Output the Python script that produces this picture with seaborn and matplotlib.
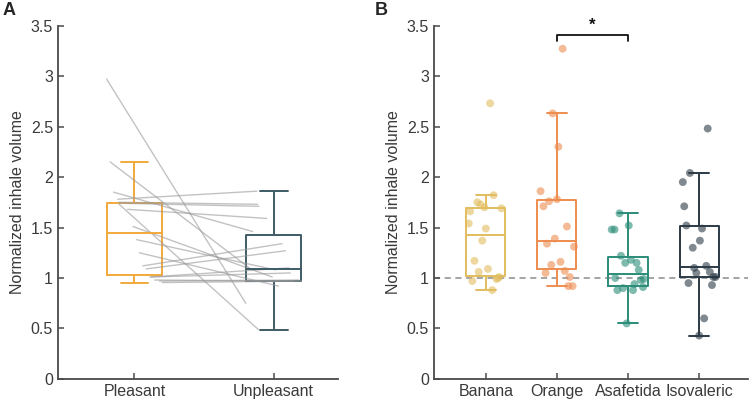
import matplotlib
matplotlib.use("Agg")
import matplotlib.pyplot as plt
import pandas as pd
import seaborn as sns

sns.set_theme(style="white")
plt.rcParams["font.family"] = ["Liberation Sans", "DejaVu Sans"]

# Panel A: one value per subject and condition, plus the horizontal jitter of each subject
pleasant = [2.97, 2.15, 1.85, 1.78, 1.75, 1.74, 1.73, 1.68, 1.51, 1.38, 1.25, 1.12, 1.09, 1.01, 1.01, 0.98, 0.97, 0.955]
unpleasant = [0.75, 1.10, 1.46, 1.86, 1.73, 1.71, 0.49, 1.59, 1.01, 1.08, 0.92, 1.34, 1.27, 1.10, 1.05, 0.97, 0.98, 0.97]
subject_dx = [-0.20, -0.175, -0.15, -0.12, -0.115, -0.105, -0.11, -0.05, -0.01, 0.015, 0.035, 0.06,
              0.085, 0.11, 0.12, 0.145, 0.18, 0.20]
valence_labels = ["Pleasant", "Unpleasant"]

# Panel B: values per odor and the jitter
odor_labels = ["Banana", "Orange", "Asafetida", "Isovaleric"]
banana = [2.73, 1.82, 1.75, 1.73, 1.70, 1.66, 1.69, 1.54, 1.49, 1.37, 1.17, 1.09, 1.06, 1.01, 0.99, 0.97, 0.88, 1.00]
banana_dx = [0.06, 0.11, -0.12, -0.075, -0.02, -0.22, 0.22, -0.24, 0.0, -0.05, -0.16, 0.03, -0.10, 0.19, 0.15, -0.19, 0.09, 0.17]
orange = [3.27, 2.63, 2.30, 1.86, 1.76, 1.78, 1.71, 1.51, 1.39, 1.34, 1.31, 1.16, 1.13, 1.05, 1.07, 1.01, 0.92, 0.92]
orange_dx = [0.08, -0.06, 0.02, -0.23, -0.11, 0.0, -0.19, 0.14, -0.03, -0.14, 0.24, 0.05, -0.08, -0.16, 0.11, 0.18, 0.16, 0.22]
asafetida = [1.64, 1.48, 1.48, 1.52, 1.22, 1.15, 1.18, 1.15, 1.08, 1.00, 0.98, 0.99, 0.94, 0.91, 0.88, 0.90, 0.88, 0.55]
asafetida_dx = [-0.12, -0.23, -0.19, 0.01, -0.10, -0.04, 0.04, 0.12, 0.15, -0.18, 0.18, 0.22, 0.09, 0.21, -0.15, -0.07, 0.07, -0.02]
isovaleric = [2.48, 2.04, 1.95, 1.71, 1.52, 1.49, 1.37, 1.30, 1.10, 1.12, 1.05, 1.06, 1.01, 1.01, 0.95, 0.93, 0.60, 0.43]
isovaleric_dx = [0.12, -0.13, -0.23, -0.21, -0.18, 0.04, 0.01, -0.09, -0.07, 0.10, -0.04, 0.15, 0.20, 0.23, -0.15, 0.18, 0.07, 0.0]

valence_colors = ["#F2A93B", "#3E5C66"]
odor_colors = ["#E2BD5E", "#EE8C4F", "#2A8C78", "#2B3A44"]
axis_color = "#4a4a4a"
text_color = "#3a3a3a"


def style_axis(ax, xlim):
    ax.set_xlim(*xlim)
    ax.set_ylim(0, 3.5)
    ax.set_yticks([0, 0.5, 1, 1.5, 2, 2.5, 3, 3.5])
    ax.set_yticklabels(["0", "0.5", "1", "1.5", "2", "2.5", "3", "3.5"])
    ax.set_xlabel("")
    ax.set_ylabel("Normalized inhale volume", fontsize=11.5, color=text_color, labelpad=4)
    for side in ["top", "right"]:
        ax.spines[side].set_visible(False)
    for side in ["left", "bottom"]:
        ax.spines[side].set_color(axis_color)
        ax.spines[side].set_linewidth(1.3)
    ax.tick_params(direction="in", length=4, width=1.1, color=axis_color,
                   labelcolor=text_color, labelsize=11.5, left=True, bottom=True)


fig = plt.figure(figsize=(7.52, 4.03), dpi=100)
ax_a = fig.add_axes([0.077, 0.0596, 0.372, 0.877])
ax_b = fig.add_axes([0.577, 0.0596, 0.418, 0.877])

# ---- panel A
paired = pd.DataFrame({
    "subject": list(range(len(pleasant))) * 2,
    "valence": [valence_labels[0]] * len(pleasant) + [valence_labels[1]] * len(unpleasant),
    "value": pleasant + unpleasant,
    "xpos": [0 + d for d in subject_dx] + [1 + d for d in subject_dx],
})
sns.boxplot(data=paired, x="valence", y="value", hue="valence", order=valence_labels,
            palette=valence_colors, fill=False, width=0.4, showfliers=False,
            linewidth=1.4, legend=False, ax=ax_a)
sns.lineplot(data=paired, x="xpos", y="value", units="subject", estimator=None, sort=False,
             color="#9a9a9a", alpha=0.6, linewidth=1.0, ax=ax_a)
ax_a.set_xticks([0, 1])
ax_a.set_xticklabels(valence_labels)
style_axis(ax_a, (-0.55, 1.46))

# ---- panel B
odors = pd.DataFrame({
    "odor": sum([[name] * 18 for name in odor_labels], []),
    "value": banana + orange + asafetida + isovaleric,
    "dx": banana_dx + orange_dx + asafetida_dx + isovaleric_dx,
})
odors["xpos"] = odors["odor"].map({n: i for i, n in enumerate(odor_labels)}) + odors["dx"]

ax_b.axhline(1, color="#8c8c8c", linestyle=(0, (4, 3)), linewidth=1.1, zorder=0)
sns.scatterplot(data=odors, x="xpos", y="value", hue="odor", hue_order=odor_labels,
                palette=odor_colors, alpha=0.6, s=32, linewidth=0, legend=False, ax=ax_b)
sns.boxplot(data=odors, x="odor", y="value", hue="odor", order=odor_labels,
            palette=odor_colors, fill=False, width=0.55, showfliers=False,
            linewidth=1.4, legend=False, ax=ax_b)
ax_b.set_xticks(range(4))
ax_b.set_xticklabels(odor_labels)
style_axis(ax_b, (-0.73, 3.69))

# significance bracket Orange vs Asafetida
ax_b.plot([1, 1, 2, 2], [3.35, 3.41, 3.41, 3.35], color="#111111", linewidth=1.3, clip_on=False)
ax_b.text(1.5, 3.43, "*", ha="center", va="bottom", fontsize=12, fontweight="bold", color="#111111")

fig.text(0.004, 0.995, "A", fontsize=13, fontweight="bold", va="top", ha="left")
fig.text(0.498, 0.995, "B", fontsize=13, fontweight="bold", va="top", ha="left")

fig.savefig("out.png", dpi=100)
